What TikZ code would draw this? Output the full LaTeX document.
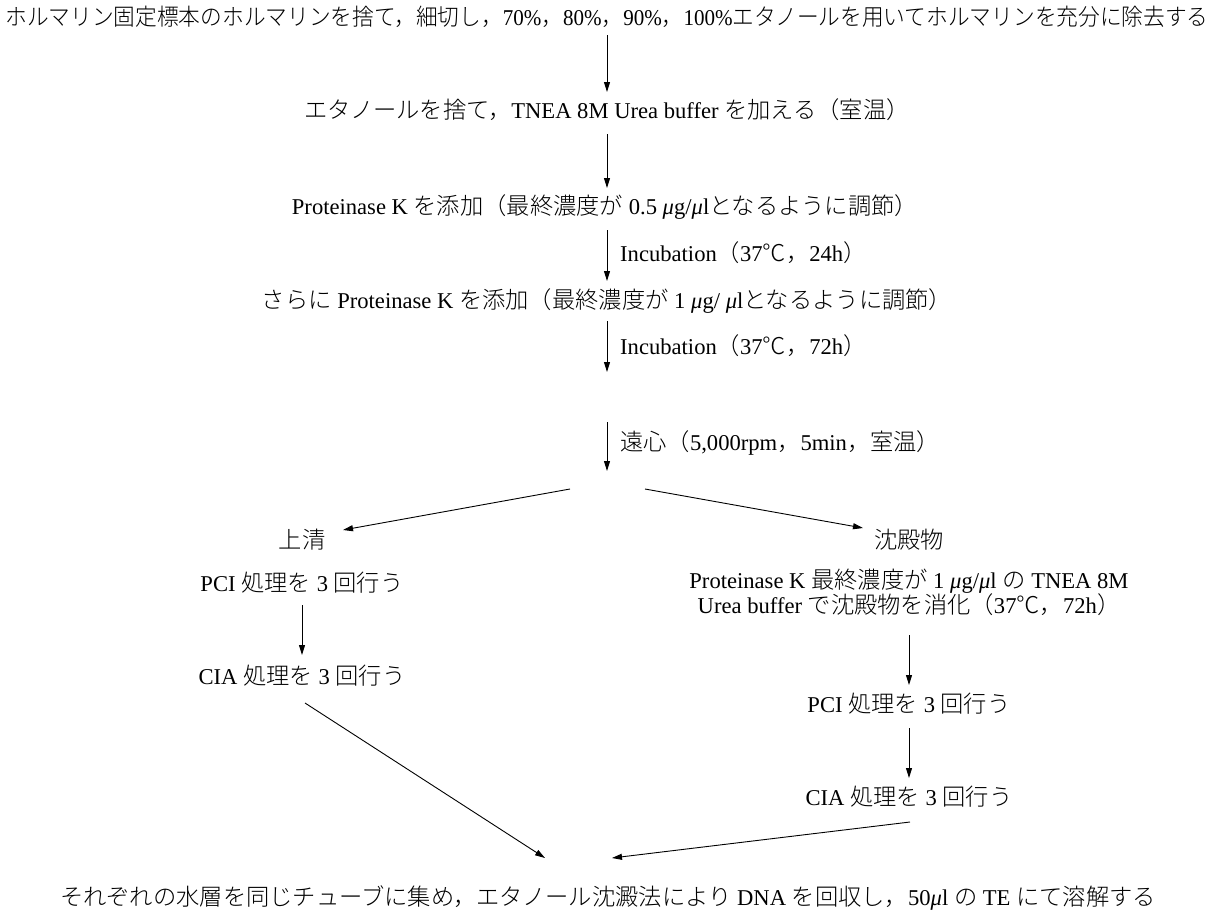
\documentclass[tikz,border=0pt]{standalone}
\usepackage{fontspec}
\usepackage{graphicx}
\setmainfont{Liberation Serif}
\newfontfamily\jpfont[Scale=1.03]{Noto Sans CJK JP Light}
\newcommand\J[1]{{\jpfont #1}}
\newcommand\mmu{\textit{μ}}
\usetikzlibrary{arrows.meta}
\begin{document}
\begin{tikzpicture}[x=1pt,y=-1pt,
  txt/.style={inner sep=0pt, font=\fontsize{22.6}{25}\selectfont, align=center},
  lbl/.style={inner sep=0pt, font=\fontsize{22.6}{25}\selectfont, anchor=west},
  arr/.style={draw, line width=0.9pt, -{Triangle[length=10pt,width=6pt]}}]
\useasboundingbox[fill=white] (0,0) rectangle (1213,916);

\node[txt] (t1) at (607,17) {\resizebox{1203pt}{\height}{\J{ホルマリン固定標本のホルマリンを捨て，細切し，}70\%\J{，}80\%\J{，}90\%\J{，}100\%\J{エタノールを用いてホルマリンを充分に除去する}}};
\node[txt] (t2) at (607,110) {\J{エタノールを捨て，}TNEA 8M Urea buffer \J{を加える（室温）}};
\node[txt] (t3) at (605,207) {Proteinase K \J{を添加（最終濃度が} 0.5 \mmu g/\mmu l\J{となるように調節）}};
\node[txt] (t4) at (607,301) {\J{さらに} Proteinase K \J{を添加（最終濃度が} 1 \mmu g/ \mmu l\J{となるように調節）}};

\node[lbl] (i1) at (620,253) {Incubation\J{（}37\J{℃，}24h\J{）}};
\node[lbl] (i2) at (620,346) {Incubation\J{（}37\J{℃，}72h\J{）}};
\node[lbl] (i3) at (620,443) {\J{遠心（}5,000rpm\J{，}5min\J{，室温）}};

\coordinate (c1) at (607,372);
\coordinate (c2) at (607,422);
\coordinate (c3) at (607,471);
\coordinate (sL) at (570,489);
\coordinate (sR) at (645,489);

\node[txt] (L0) at (302,540) {\J{上清}};
\node[txt] (L1) at (302,583) {PCI \J{処理を} 3 \J{回行う}};
\node[txt] (L2) at (302,676) {CIA \J{処理を} 3 \J{回行う}};

\node[txt] (R0) at (909,540) {\J{沈殿物}};
\node[txt] (R1) at (909,592) {Proteinase K \J{最終濃度が} 1 \mmu g/\mmu l \J{の} TNEA 8M\\Urea buffer \J{で沈殿物を消化（}37\J{℃，}72h\J{）}};
\node[txt] (R2) at (909,704) {PCI \J{処理を} 3 \J{回行う}};
\node[txt] (R3) at (909,797) {CIA \J{処理を} 3 \J{回行う}};

\node[txt] (B) at (608,898) {\J{それぞれの水層を同じチューブに集め，エタノール沈澱法により} DNA \J{を回収し，}50\mmu l \J{の} TE \J{にて溶解する}};

\draw[arr] ([yshift=-18pt]t1.center) -- ([yshift=18pt]t2.center);
\draw[arr] ([yshift=-24pt]t2.center) -- ([yshift=19pt]t2.center |- t3.center);
\draw[arr] ([yshift=-23pt]t2.center |- t3.center) -- ([yshift=20pt]t4.center);
\draw[arr] ([yshift=-20pt]t4.center) -- (c1);
\draw[arr] (c2) -- (c3);
\draw[arr] (sL) -- ([xshift=41pt,yshift=10pt]L0.center);
\draw[arr] (sR) -- ([xshift=-46pt,yshift=12pt]R0.center);
\draw[arr] ([yshift=-22pt]L1.center) -- ([yshift=21pt]L2.center);
\draw[arr] ([yshift=-43pt]R1.center) -- ([yshift=19pt]R2.center);
\draw[arr] ([yshift=-24pt]R2.center) -- ([yshift=19pt]R3.center);
\draw[arr] ([xshift=3pt,yshift=-27pt]L2.center) -- ([xshift=-63pt,yshift=40pt]B.center);
\draw[arr] ([xshift=1pt,yshift=-25pt]R3.center) -- ([xshift=4pt,yshift=40pt]B.center);
\end{tikzpicture}
\end{document}
